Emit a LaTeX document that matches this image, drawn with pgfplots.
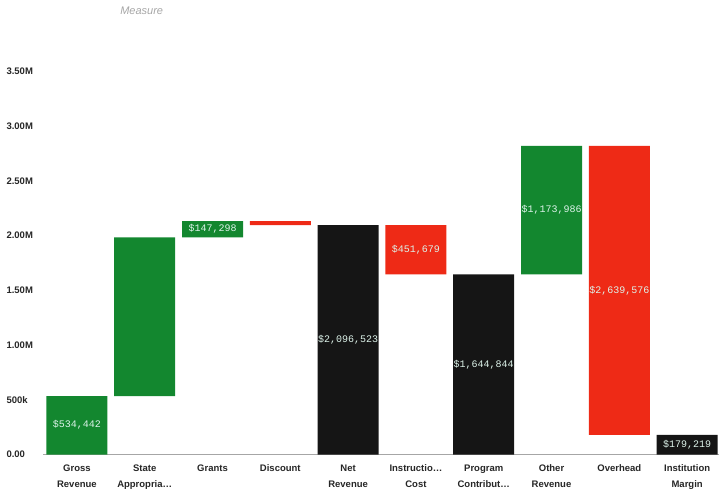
\documentclass[border=0pt]{standalone}
\usepackage{pgfplots}
\pgfplotsset{compat=1.18}
\usepackage{pgfplotstable}
\usepackage{fontspec}
\setmainfont{Liberation Sans}
\setmonofont{Liberation Mono}
\definecolor{wgreen}{HTML}{13872F}
\definecolor{wred}{HTML}{EE2A16}
\definecolor{wblack}{HTML}{151515}
\definecolor{lbl}{HTML}{DDF3EA}
\pgfplotstableread{
x base green red black
0 0 534442 0 0
1 534442 1450000 0 0
2 1984442 147298 0 0
3 2096523 0 35217 0
4 0 0 0 2096523
5 1644844 0 451679 0
6 0 0 0 1644844
7 1644844 1173986 0 0
8 179219 0 2639611 0
9 0 0 0 179219
}\bars
\pgfplotstableread{
x mid label
0 267221 {\$534,442}
2 2058091 {\$147,298}
4 1048262 {\$2,096,523}
5 1870684 {\$451,679}
6 822422 {\$1,644,844}
7 2231837 {\$1,173,986}
8 1499025 {\$2,639,576}
}\labels
\begin{document}
\begin{tikzpicture}
\begin{axis}[
  scale only axis,
  width=676pt, height=394pt,
  xmin=-0.5, xmax=9.47,
  ymin=0, ymax=3600000,
  ybar stacked, bar width=0.9,
  axis x line*=bottom, axis y line*=left,
  x axis line style={draw=gray!70, line width=0.8pt},
  y axis line style={draw=none},
  tick style={draw=none},
  xtick={0,...,9},
  xticklabels={{Gross\\Revenue},{State\\Appropria\dots},{Grants},{Discount},{Net\\Revenue},{Instructio\dots\\Cost},{Program\\Contribut\dots},{Other\\Revenue},{Overhead},{Institution\\Margin}},
  xticklabel style={align=center, font=\fontsize{9.5}{16}\selectfont\bfseries, text=black!85, yshift=-7pt},
  ytick={0,500000,1000000,1500000,2000000,2500000,3000000,3500000},
  yticklabels={0.00,500k,1.00M,1.50M,2.00M,2.50M,3.00M,3.50M},
  yticklabel style={anchor=west, xshift=-40pt, font=\fontsize{9.5}{11}\selectfont\bfseries, text=black!85},
  scaled y ticks=false,
  clip=false,
]
\addplot[draw=none, fill=none] table[x=x, y=base] {\bars};
\addplot[draw=none, fill=wgreen] table[x=x, y=green] {\bars};
\addplot[draw=none, fill=wred] table[x=x, y=red] {\bars};
\addplot[draw=none, fill=wblack] table[x=x, y=black] {\bars};
\end{axis}
\begin{axis}[
  scale only axis,
  width=676pt, height=394pt,
  xmin=-0.5, xmax=9.47,
  ymin=0, ymax=3600000,
  hide axis, clip=false,
]
\addplot[only marks, mark=none, nodes near coords, point meta=explicit symbolic,
  every node near coord/.style={anchor=center, font=\ttfamily\fontsize{10}{11}\selectfont, text=lbl}]
  table[x=x, y=mid, meta=label] {\labels};
\addplot[only marks, mark=none, nodes near coords, point meta=explicit symbolic,
  every node near coord/.style={anchor=center, font=\ttfamily\fontsize{10}{11}\selectfont, text=lbl, fill=wblack, inner sep=2pt}]
  coordinates {(9,89000) [{\$179,219}]};
\node[font=\itshape\fontsize{11}{13}\selectfont, text=gray!70] at (rel axis cs:0.146,1) [yshift=50pt] {Measure};
\end{axis}
\pgfresetboundingbox
\path (-43pt,-37.5pt) rectangle (676pt,454.5pt);
\end{tikzpicture}
\end{document}
